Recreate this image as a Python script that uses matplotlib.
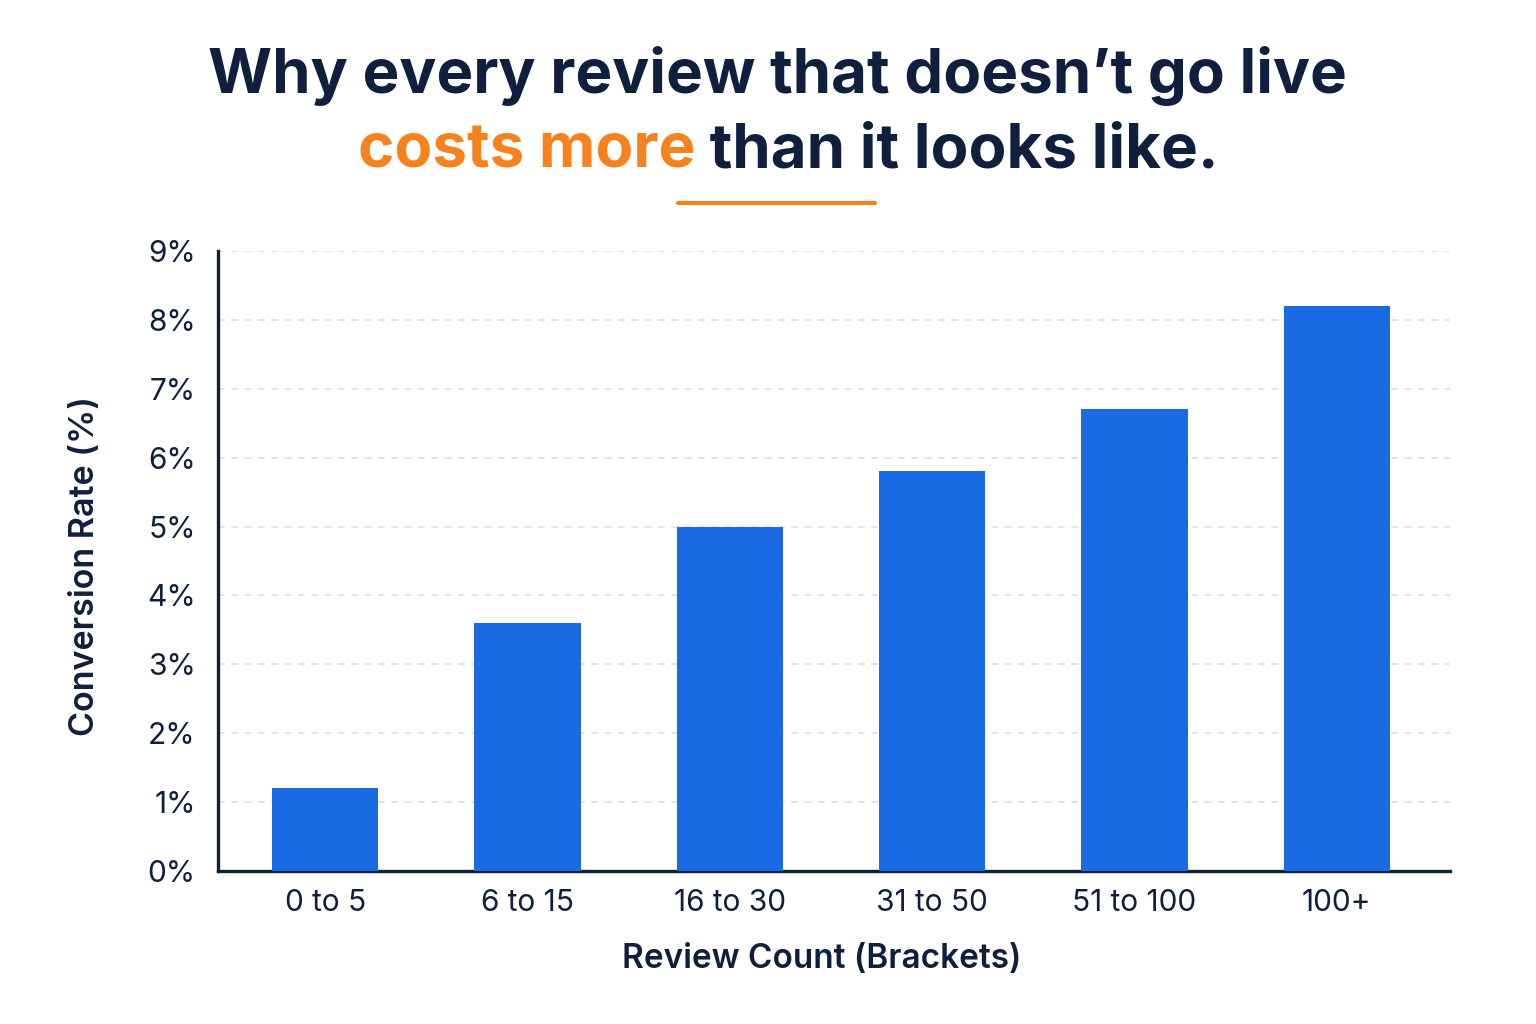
import matplotlib
matplotlib.use("Agg")
import matplotlib.pyplot as plt
from matplotlib.ticker import FuncFormatter, MultipleLocator

# data
brackets = ["0 to 5", "6 to 15", "16 to 30", "31 to 50", "51 to 100", "100+"]
conversion = [1.2, 3.6, 5.0, 5.8, 6.7, 8.2]

title_line1 = "Why every review that doesn\u2019t go live"
title_accent = "costs more"
title_rest = " than it looks like."

NAVY = "#0f1f3d"
ORANGE = "#f5821f"
BLUE = "#1a6ae4"
GRID = "#dcdfe6"

plt.rcParams["font.family"] = ["Inter", "DejaVu Sans"]

fig = plt.figure(figsize=(15.36, 10.24), dpi=100)
fig.patch.set_facecolor("white")
ax = fig.add_axes([218 / 1536, 1 - 871 / 1024, (1450 - 218) / 1536, (871 - 251) / 1024])

x = range(len(brackets))
ax.bar(x, conversion, width=0.525, color=BLUE, zorder=3)

ax.set_xlim(-0.53, 5.56)
ax.set_ylim(0, 9)
ax.yaxis.set_major_locator(MultipleLocator(1))
ax.yaxis.set_major_formatter(FuncFormatter(lambda v, _: f"{v:.0f}%"))
ax.set_xticks(list(x))
ax.set_xticklabels(brackets)
ax.tick_params(axis="both", length=0, labelsize=21.5, labelcolor=NAVY)
ax.tick_params(axis="y", pad=16)
ax.tick_params(axis="x", pad=13)

ax.grid(axis="y", color=GRID, linestyle=(0, (4, 4)), linewidth=1.2, zorder=0)
for side in ["top", "right"]:
    ax.spines[side].set_visible(False)
for side in ["left", "bottom"]:
    ax.spines[side].set_color(NAVY)
    ax.spines[side].set_linewidth(2.4)

ax.set_xlabel("Review Count (Brackets)", fontsize=24, fontweight="semibold", color=NAVY)
ax.set_ylabel("Conversion Rate (%)", fontsize=24.5, fontweight="semibold", color=NAVY)
ax.xaxis.set_label_coords((822 - 218) / (1450 - 218), -(959 - 871) / (871 - 251))
ax.yaxis.set_label_coords(-(218 - 85) / (1450 - 218), (871 - 566) / (871 - 251))
ax.xaxis.label.set_va("center")
ax.yaxis.label.set_va("center")

# title, two lines, the second one mixing colours
fig.text(777 / 1536, 1 - 93 / 1024, title_line1, ha="center", va="baseline",
         fontsize=44.5, fontweight="bold", color=NAVY)

renderer = fig.canvas.get_renderer()
y2 = 1 - 167 / 1024
t_acc = fig.text(0, y2, title_accent, ha="left", va="baseline",
                 fontsize=44.5, fontweight="bold", color=ORANGE)
t_rest = fig.text(0, y2, title_rest, ha="left", va="baseline",
                  fontsize=44.5, fontweight="bold", color=NAVY)
w_acc = t_acc.get_window_extent(renderer).width / fig.bbox.width
w_rest = t_rest.get_window_extent(renderer).width / fig.bbox.width
x0 = 788 / 1536 - (w_acc + w_rest) / 2
t_acc.set_x(x0)
t_rest.set_x(x0 + w_acc)

# short orange rule under the title
fig.add_artist(plt.Line2D([678 / 1536, 875 / 1536], [1 - 203 / 1024] * 2,
                          color=ORANGE, linewidth=3, solid_capstyle="round"))

fig.savefig("out.png", dpi=100, facecolor="white")
